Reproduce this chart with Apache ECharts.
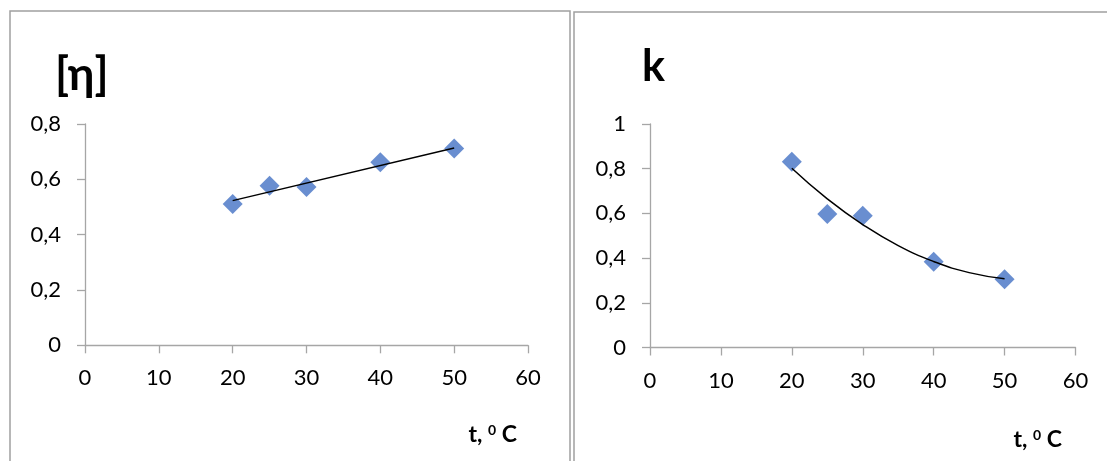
<!DOCTYPE html>
<html>
<head>
<meta charset="utf-8">
<script src="https://cdn.jsdelivr.net/npm/echarts@6/dist/echarts.min.js"></script>
<style>
html,body{margin:0;padding:0;background:#fff;}
#c{width:1107px;height:461px;}
</style>
</head>
<body>
<div id="c"></div>
<script>
// ---- data ----
const tempLeft = [20, 25, 30, 40, 50];
const etaValues = [0.511, 0.577, 0.572, 0.662, 0.711];
const etaTrendX = [20, 50];
const etaTrendY = [0.523, 0.713];

const tempRight = [20, 25, 30, 40, 50];
const kValues = [0.831, 0.597, 0.590, 0.384, 0.305];
const kTrendX = [20, 25, 30, 35, 40, 45, 50];
const kTrendY = [0.802, 0.665, 0.550, 0.456, 0.385, 0.335, 0.308];

const xTicks = [0, 10, 20, 30, 40, 50, 60];
const leftYTicks = [0, 0.2, 0.4, 0.6, 0.8];
const rightYTicks = [0, 0.2, 0.4, 0.6, 0.8, 1];

const titleLeft = '[η]';
const titleRight = 'k';
const xNameText = 't, {s|0} C';

// ---- chart ----
const FONT = 'Lato';
const AX = '#a6a6a6';
const pair = (xs, ys) => xs.map((x, i) => [x, ys[i]]);
const fmtY = v => (Math.round(v * 10) / 10).toString().replace('.', ',');

function xAxisOf(idx) {
  return {
    gridIndex: idx, type: 'value',
    min: xTicks[0], max: xTicks[xTicks.length - 1], interval: xTicks[1] - xTicks[0],
    axisLine: { show: true, onZero: false, lineStyle: { color: AX, width: 1.3 } },
    axisTick: { show: true, inside: false, length: 8, lineStyle: { color: AX, width: 1.3 } },
    splitLine: { show: false },
    axisLabel: { margin: 22, color: '#000', fontFamily: FONT, fontSize: 22 }
  };
}
function yAxisOf(idx, ticks) {
  return {
    gridIndex: idx, type: 'value',
    min: ticks[0], max: ticks[ticks.length - 1], interval: ticks[1] - ticks[0],
    axisLine: { show: true, onZero: false, lineStyle: { color: AX, width: 1.3 } },
    axisTick: { show: true, inside: false, length: 8, lineStyle: { color: AX, width: 1.3 } },
    splitLine: { show: false },
    axisLabel: { margin: 24, color: '#000', fontFamily: FONT, fontSize: 22, formatter: fmtY }
  };
}
const axisNameStyle = {
  text: xNameText,
  fontFamily: FONT, fontSize: 23, fontWeight: 'bold', fill: '#000',
  rich: { s: { fontFamily: FONT, fontSize: 14, fontWeight: 'bold', verticalAlign: 'top', padding: [0, 0, 9, 0] } }
};

const chart = echarts.init(document.getElementById('c'), null, { renderer: 'canvas' });
chart.setOption({
  animation: false,
  backgroundColor: '#fff',
  grid: [
    { left: 85, top: 124, width: 443, height: 221.3, containLabel: false },
    { left: 650, top: 124, width: 425.5, height: 223.5, containLabel: false }
  ],
  xAxis: [xAxisOf(0), xAxisOf(1)],
  yAxis: [yAxisOf(0, leftYTicks), yAxisOf(1, rightYTicks)],
  title: [
    { text: titleLeft, left: 50, top: 48, textStyle: { fontFamily: FONT, fontSize: 45, fontWeight: 'bold', color: '#000' } },
    { text: titleRight, left: 637, top: 41, textStyle: { fontFamily: FONT, fontSize: 43, fontWeight: 'bold', color: '#000' } }
  ],
  graphic: [
    { type: 'rect', silent: true, shape: { x: 10, y: 11, width: 560, height: 500 }, style: { fill: 'none', stroke: '#a0a0a0', lineWidth: 1.5 } },
    { type: 'rect', silent: true, shape: { x: 574, y: 12, width: 560, height: 500 }, style: { fill: 'none', stroke: '#a0a0a0', lineWidth: 1.5 } },
    { type: 'text', right: 590, top: 423, style: axisNameStyle },
    { type: 'text', right: 45, top: 428, style: axisNameStyle }
  ],
  series: [
    { type: 'line', xAxisIndex: 0, yAxisIndex: 0, data: pair(etaTrendX, etaTrendY), symbol: 'none',
      lineStyle: { color: '#000', width: 1.5 }, z: 3 },
    { type: 'scatter', xAxisIndex: 0, yAxisIndex: 0, data: pair(tempLeft, etaValues), symbol: 'diamond', symbolSize: 20,
      itemStyle: { color: '#4472C4' }, z: 2 },
    { type: 'line', xAxisIndex: 1, yAxisIndex: 1, data: pair(kTrendX, kTrendY), symbol: 'none', smooth: true,
      lineStyle: { color: '#000', width: 1.5 }, z: 3 },
    { type: 'scatter', xAxisIndex: 1, yAxisIndex: 1, data: pair(tempRight, kValues), symbol: 'diamond', symbolSize: 20,
      itemStyle: { color: '#4472C4' }, z: 2 }
  ]
});
</script>
</body>
</html>
